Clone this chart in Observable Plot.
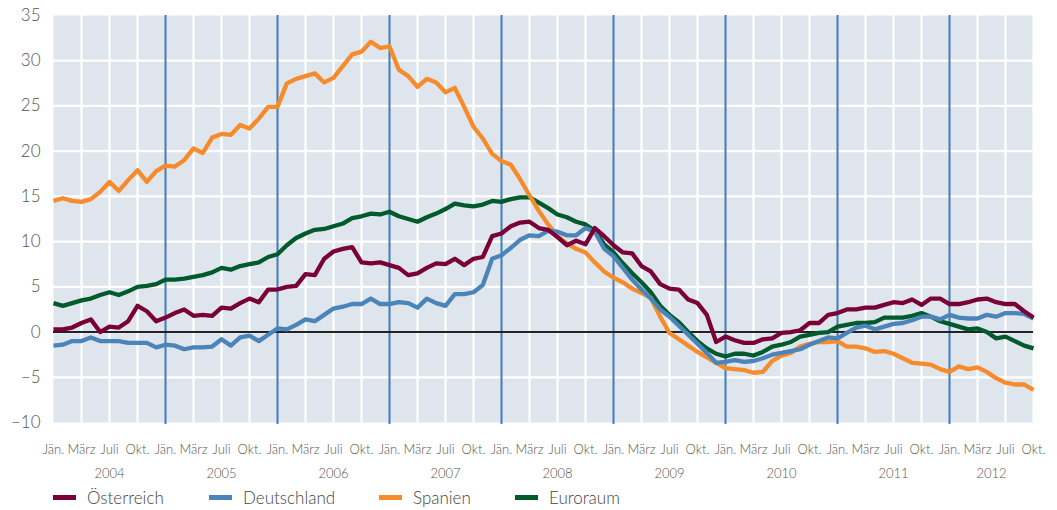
<!DOCTYPE html>
<html><head><meta charset="utf-8">
<script src="https://cdn.jsdelivr.net/npm/d3@7"></script>
<script src="https://cdn.jsdelivr.net/npm/@observablehq/plot@0.6"></script>
<style>
body{margin:0;background:#fff;font-family:Lato,"Open Sans",sans-serif;}
#wrap{position:relative;width:1057px;height:510px;overflow:hidden;}
#legend{position:absolute;top:486px;left:0;width:1057px;height:22px;}
.item{position:absolute;top:0;display:flex;align-items:center;font-size:17px;font-weight:300;color:#444;height:22px;}
.sw{width:23px;height:5px;margin-right:11px;}
svg text{font-weight:300;}
</style></head><body><div id="wrap"><div id="chart"></div><div id="legend"></div></div>
<script>
const years = [2004, 2005, 2006, 2007, 2008, 2009, 2010, 2011, 2012];
const monthLabels = ["Jän.", "März", "Juli", "Okt."];
const yTicks = [-10, -5, 0, 5, 10, 15, 20, 25, 30, 35];
const seriesNames = ["Österreich", "Deutschland", "Spanien", "Euroraum"];
const seriesColors = ["#7a0038", "#4a84b8", "#f68b2c", "#005a2c"];

// monthly values, Jan 2004 – Oct 2012
const oesterreich = [
  0.3, 0.3, 0.5, 1.0, 1.4, 0.0, 0.6, 0.5, 1.2, 2.9, 2.3, 1.2,
  1.6, 2.1, 2.5, 1.8, 1.9, 1.8, 2.7, 2.6, 3.2, 3.7, 3.3, 4.7,
  4.7, 5.0, 5.1, 6.4, 6.3, 8.1, 8.9, 9.2, 9.4, 7.7, 7.6, 7.7,
  7.4, 7.1, 6.3, 6.5, 7.1, 7.6, 7.5, 8.1, 7.4, 8.1, 8.3, 10.6,
  10.9, 11.7, 12.1, 12.2, 11.5, 11.3, 10.5, 9.6, 10.1, 9.7, 11.5, 10.6,
  9.6, 8.8, 8.7, 7.3, 6.7, 5.3, 4.8, 4.7, 3.6, 3.2, 1.9, -1.1,
  -0.5, -0.9, -1.2, -1.2, -0.8, -0.7, -0.1, 0.0, 0.2, 1.0, 1.0, 1.9,
  2.1, 2.5, 2.5, 2.7, 2.7, 3.0, 3.3, 3.2, 3.6, 3.0, 3.7, 3.7,
  3.1, 3.1, 3.3, 3.6, 3.7, 3.3, 3.1, 3.1, 2.3, 1.6
];
const deutschland = [
  -1.5, -1.4, -1.0, -1.0, -0.6, -1.0, -1.0, -1.0, -1.2, -1.2, -1.2, -1.7,
  -1.4, -1.5, -1.9, -1.7, -1.7, -1.6, -0.8, -1.5, -0.6, -0.4, -1.0, -0.3,
  0.4, 0.3, 0.8, 1.4, 1.2, 1.9, 2.6, 2.8, 3.1, 3.1, 3.7, 3.1,
  3.1, 3.3, 3.2, 2.7, 3.7, 3.2, 2.9, 4.2, 4.2, 4.4, 5.2, 8.1,
  8.5, 9.3, 10.2, 10.7, 10.6, 11.2, 11.1, 10.7, 10.7, 11.5, 11.1, 9.2,
  8.4, 7.1, 5.8, 4.7, 3.7, 2.5, 1.7, 0.7, -0.3, -1.3, -2.3, -3.4,
  -3.3, -3.1, -3.3, -3.2, -2.9, -2.5, -2.3, -2.1, -1.9, -1.4, -1.0, -0.6,
  -0.7, -0.1, 0.5, 0.7, 0.3, 0.6, 0.9, 1.0, 1.3, 1.7, 1.7, 1.4,
  1.9, 1.6, 1.5, 1.5, 1.9, 1.7, 2.1, 2.1, 2.0, 1.5
];
const spanien = [
  14.5, 14.8, 14.5, 14.4, 14.7, 15.5, 16.6, 15.6, 16.8, 17.9, 16.6, 17.8,
  18.4, 18.3, 19.0, 20.3, 19.8, 21.5, 21.9, 21.8, 22.9, 22.5, 23.6, 24.9,
  24.9, 27.5, 28.0, 28.3, 28.6, 27.6, 28.1, 29.4, 30.7, 31.0, 32.1, 31.4,
  31.6, 29.0, 28.3, 27.1, 28.0, 27.6, 26.5, 27.0, 24.9, 22.7, 21.4, 19.7,
  18.9, 18.5, 16.9, 15.1, 13.4, 11.9, 10.6, 9.8, 9.2, 8.8, 7.7, 6.7,
  6.0, 5.5, 4.8, 4.3, 3.8, 1.7, -0.1, -0.8, -1.5, -2.2, -2.8, -3.4,
  -4.0, -4.1, -4.2, -4.5, -4.4, -3.2, -2.6, -2.3, -1.6, -1.3, -1.1, -1.1,
  -1.0, -1.6, -1.6, -1.8, -2.2, -2.1, -2.4, -2.9, -3.4, -3.5, -3.6, -4.1,
  -4.4, -3.8, -4.1, -3.9, -4.4, -5.1, -5.6, -5.8, -5.8, -6.4
];
const euroraum = [
  3.2, 2.9, 3.2, 3.5, 3.7, 4.1, 4.4, 4.1, 4.5, 5.0, 5.1, 5.3,
  5.8, 5.8, 5.9, 6.1, 6.3, 6.6, 7.1, 6.9, 7.3, 7.5, 7.7, 8.3,
  8.6, 9.6, 10.4, 10.9, 11.3, 11.4, 11.7, 12.0, 12.6, 12.8, 13.1, 13.0,
  13.3, 12.8, 12.5, 12.2, 12.7, 13.1, 13.6, 14.2, 14.0, 13.9, 14.1, 14.5,
  14.4, 14.7, 14.9, 14.9, 14.3, 13.7, 13.0, 12.7, 12.2, 11.9, 11.2, 9.7,
  8.8, 7.6, 6.5, 5.5, 4.4, 2.9, 1.9, 1.1, 0.0, -1.0, -1.8, -2.4,
  -2.7, -2.4, -2.4, -2.6, -2.2, -1.6, -1.4, -1.1, -0.5, -0.3, -0.1, 0.0,
  0.6, 0.8, 1.0, 1.0, 1.1, 1.6, 1.6, 1.6, 1.8, 2.1, 1.7, 1.2,
  0.9, 0.6, 0.3, 0.4, 0.0, -0.7, -0.5, -1.0, -1.5, -1.8
];

const seriesValues = [oesterreich, deutschland, spanien, euroraum];
const nMonths = oesterreich.length; // 106
const lastIdx = nMonths - 1;

// draw order: Euroraum, Spanien, Deutschland, Österreich (top)
const drawOrder = [3, 2, 1, 0];
const table = drawOrder.flatMap(s => seriesValues[s].map((v, i) => ({name: seriesNames[s], i, v})));

const quarterTicks = years.flatMap((y, k) => [0, 3, 6, 9].map(m => 12 * k + m)).filter(i => i <= lastIdx);
const yearLines = years.slice(1).map((y, k) => 12 * (k + 1)).filter(i => i <= lastIdx);
const whiteLines = quarterTicks.filter(i => i % 12 !== 0);
const yearCenters = years.map((y, k) => ({label: String(y), x: (12 * k + Math.min(12 * k + 12, lastIdx)) / 2}));

const chart = Plot.plot({
  width: 1057,
  height: 482,
  marginTop: 15,
  marginBottom: 60,
  marginLeft: 53,
  marginRight: 24,
  style: {fontFamily: "Lato, 'Open Sans', sans-serif", background: "#fff"},
  x: {domain: [0, lastIdx]},
  y: {domain: [-10, 35]},
  color: {domain: seriesNames, range: seriesColors},
  marks: [
    Plot.frame({fill: "#dfe5ed", stroke: "none"}),
    Plot.ruleY(yTicks.filter(t => t > -10 && t < 35), {stroke: "#fff", strokeWidth: 2.2}),
    Plot.ruleX(whiteLines, {stroke: "#fff", strokeWidth: 2.2}),
    Plot.ruleX(yearLines, {stroke: "#3f7db5", strokeWidth: 2, insetBottom: -2}),
    Plot.ruleY([0], {stroke: "#222", strokeWidth: 2}),
    Plot.line(table, {x: "i", y: "v", z: "name", stroke: "name", strokeWidth: 4.3, strokeLinejoin: "round", strokeLinecap: "butt"}),
    Plot.axisY({ticks: yTicks, tickSize: 0, tickPadding: 13, fontSize: 17, fill: "#555",
      tickFormat: d => d < 0 ? "\u2013" + Math.abs(d) : String(d), label: null}),
    Plot.axisX({ticks: quarterTicks, tickSize: 0, tickPadding: 22, fontSize: 13, fill: "#555",
      tickFormat: i => monthLabels[(i % 12) / 3], label: null}),
    Plot.text(yearCenters, {x: "x", text: "label", frameAnchor: "bottom", dy: 51, fontSize: 13, fill: "#555", lineAnchor: "middle"})
  ]
});
document.getElementById("chart").appendChild(chart);

const legendLeft = [53, 209, 379, 515];
const legend = document.getElementById("legend");
seriesNames.forEach((name, s) => {
  const item = document.createElement("div");
  item.className = "item";
  item.style.left = legendLeft[s] + "px";
  const sw = document.createElement("span");
  sw.className = "sw";
  sw.style.background = seriesColors[s];
  const t = document.createElement("span");
  t.textContent = name;
  item.appendChild(sw);
  item.appendChild(t);
  legend.appendChild(item);
});
</script></body></html>
